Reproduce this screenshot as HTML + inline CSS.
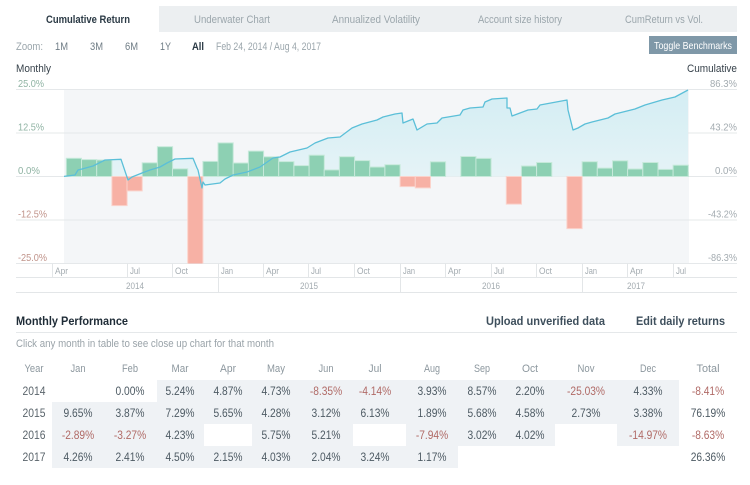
<!DOCTYPE html>
<html><head><meta charset="utf-8"><style>
html,body{margin:0;padding:0;background:#fff;width:750px;height:485px;overflow:hidden}
svg{display:block}
text{font-family:"Liberation Sans",sans-serif}
</style></head><body>
<svg width="750" height="485" viewBox="0 0 750 485" xmlns="http://www.w3.org/2000/svg">
<defs>
<linearGradient id="ag" x1="0" y1="89" x2="0" y2="190" gradientUnits="userSpaceOnUse">
<stop offset="0" stop-color="#d3edf3"/><stop offset="1" stop-color="#e8f4f7"/>
</linearGradient>
<clipPath id="pc"><rect x="64" y="89.5" width="625" height="174"/></clipPath>
</defs>

<!-- Tabs -->
<rect x="16" y="6" width="721" height="26" fill="#eceff1"/>
<rect x="16" y="6" width="143" height="26" fill="#ffffff"/>
<g font-size="11" fill="#9ba6ac">
<text x="46" y="23" textLength="84" lengthAdjust="spacingAndGlyphs" font-weight="bold" fill="#2b3a45">Cumulative Return</text>
<text x="194" y="23" textLength="76" lengthAdjust="spacingAndGlyphs">Underwater Chart</text>
<text x="332" y="23" textLength="88" lengthAdjust="spacingAndGlyphs">Annualized Volatility</text>
<text x="478" y="23" textLength="84" lengthAdjust="spacingAndGlyphs">Account size history</text>
<text x="625" y="23" textLength="78" lengthAdjust="spacingAndGlyphs">CumReturn vs Vol.</text>
</g>

<!-- Zoom row -->
<g font-size="10.8" fill="#9ba6ac">
<text x="16" y="50" textLength="27" lengthAdjust="spacingAndGlyphs">Zoom:</text>
<text x="55" y="50" textLength="13" lengthAdjust="spacingAndGlyphs" fill="#6f7c85">1M</text>
<text x="90" y="50" textLength="13" lengthAdjust="spacingAndGlyphs" fill="#6f7c85">3M</text>
<text x="125" y="50" textLength="13" lengthAdjust="spacingAndGlyphs" fill="#6f7c85">6M</text>
<text x="160" y="50" textLength="11" lengthAdjust="spacingAndGlyphs" fill="#6f7c85">1Y</text>
<text x="192" y="50" textLength="12" lengthAdjust="spacingAndGlyphs" font-weight="bold" fill="#2b3a45">All</text>
<text x="216" y="50" textLength="105" lengthAdjust="spacingAndGlyphs">Feb 24, 2014 / Aug 4, 2017</text>
</g>
<rect x="649" y="36" width="88" height="18" fill="#7f98a8"/>
<text x="654" y="49" font-size="10.5" fill="#ffffff" textLength="78" lengthAdjust="spacingAndGlyphs">Toggle Benchmarks</text>

<text x="16" y="72" font-size="11" fill="#36414a" textLength="35" lengthAdjust="spacingAndGlyphs">Monthly</text>
<text x="737" y="72" font-size="11" fill="#36414a" text-anchor="end" textLength="50" lengthAdjust="spacingAndGlyphs">Cumulative</text>

<!-- Plot background & grid -->
<rect x="64" y="89.5" width="625" height="174" fill="#f4f6f8"/>
<g stroke="#e5e8ea" stroke-width="1">
<line x1="16" y1="89.5" x2="737" y2="89.5"/>
<line x1="16" y1="133" x2="737" y2="133"/>
<line x1="16" y1="176.5" x2="737" y2="176.5"/>
<line x1="16" y1="220" x2="737" y2="220"/>
<line x1="16" y1="263.5" x2="737" y2="263.5"/>
</g>

<!-- Y labels -->
<g font-size="10.5">
<text x="18" y="87" fill="#8fb3a3" textLength="26" lengthAdjust="spacingAndGlyphs">25.0%</text>
<text x="18" y="130.5" fill="#8fb3a3" textLength="26" lengthAdjust="spacingAndGlyphs">12.5%</text>
<text x="18" y="174" fill="#8fb3a3" textLength="22" lengthAdjust="spacingAndGlyphs">0.0%</text>
<text x="18" y="217.5" fill="#c0938a" textLength="29" lengthAdjust="spacingAndGlyphs">-12.5%</text>
<text x="18" y="261" fill="#c0938a" textLength="29" lengthAdjust="spacingAndGlyphs">-25.0%</text>
<g fill="#a3abb0" text-anchor="end">
<text x="737" y="87" textLength="27" lengthAdjust="spacingAndGlyphs">86.3%</text>
<text x="737" y="130.5" textLength="27" lengthAdjust="spacingAndGlyphs">43.2%</text>
<text x="737" y="174" textLength="22" lengthAdjust="spacingAndGlyphs">0.0%</text>
<text x="737" y="217.5" textLength="29" lengthAdjust="spacingAndGlyphs">-43.2%</text>
<text x="737" y="261" textLength="29" lengthAdjust="spacingAndGlyphs">-86.3%</text>
</g>
</g>

<g clip-path="url(#pc)">
<!-- Area -->
<path fill="url(#ag)" d="M63,176.5 L75,175 78,170 82,169 93,166 105,160 121,159.3 128,180 132,177 137,175 142,173 150,170 160,167 167,163 175,159 193,158.3 197,168 198,170 202,188 203,182 205,185 220,183 225,179 233,175 247,172 260,167 273,158 280,157 290,152 307,148 315,143 328,138 340,137 352,128 362,124 377,120 383,117 395,114 402,113 403,123 413,119 417,130 427,124 437,123 442,118 460,115 463,110 470,108 483,107 485,102 492,99 507,98 507,108 510,108 512,116 520,113 528,110 537,109 540,105 567,100 568,110 573,130 578,128 585,124 592,122 608,118 615,114 635,109 645,105 662,100 675,97 688,90 L688,176.5 Z"/>

<!-- Bars -->
<g fill="#8dd0b3" stroke="#c6e9da" stroke-width="1">
<rect x="66.3" y="158.3" width="15.2" height="18.2"/>
<rect x="81.5" y="159.6" width="15.2" height="16.9"/>
<rect x="96.7" y="160" width="15.2" height="16.5"/>
<rect x="142.2" y="162.8" width="15.2" height="13.7"/>
<rect x="157.4" y="146.7" width="15.2" height="29.8"/>
<rect x="172.5" y="168.8" width="15.2" height="7.7"/>
<rect x="202.9" y="161.4" width="15.2" height="15.1"/>
<rect x="218" y="142.9" width="15.2" height="33.6"/>
<rect x="233.2" y="163" width="15.2" height="13.5"/>
<rect x="248.4" y="151.1" width="15.2" height="25.4"/>
<rect x="263.5" y="156.8" width="15.2" height="19.7"/>
<rect x="278.7" y="161.6" width="15.2" height="14.9"/>
<rect x="293.9" y="165.6" width="15.2" height="10.9"/>
<rect x="309.1" y="155.2" width="15.2" height="21.3"/>
<rect x="324.2" y="169.9" width="15.2" height="6.6"/>
<rect x="339.4" y="156.7" width="15.2" height="19.8"/>
<rect x="354.6" y="160.6" width="15.2" height="15.9"/>
<rect x="369.7" y="167" width="15.2" height="9.5"/>
<rect x="384.9" y="164.7" width="15.2" height="11.8"/>
<rect x="430.4" y="161.8" width="15.2" height="14.7"/>
<rect x="460.8" y="156.5" width="15.2" height="20"/>
<rect x="475.9" y="158.4" width="15.2" height="18.1"/>
<rect x="521.4" y="166" width="15.2" height="10.5"/>
<rect x="536.6" y="162.5" width="15.2" height="14"/>
<rect x="582.1" y="161.7" width="15.2" height="14.8"/>
<rect x="597.3" y="168.1" width="15.2" height="8.4"/>
<rect x="612.5" y="160.8" width="15.2" height="15.7"/>
<rect x="627.6" y="169" width="15.2" height="7.5"/>
<rect x="642.8" y="162.5" width="15.2" height="14"/>
<rect x="658" y="169.4" width="15.2" height="7.1"/>
<rect x="673.1" y="165.2" width="15.2" height="11.3"/>
<rect x="688.3" y="172.4" width="1" height="4.1"/>
</g>
<g fill="#f7b1a5" stroke="#fbd3cb" stroke-width="1">
<rect x="111.9" y="176.5" width="15.2" height="29.1"/>
<rect x="127" y="176.5" width="15.2" height="14.4"/>
<rect x="187.7" y="176.5" width="15.2" height="88"/>
<rect x="400.1" y="176.5" width="15.2" height="10.1"/>
<rect x="415.3" y="176.5" width="15.2" height="11.4"/>
<rect x="506.3" y="176.5" width="15.2" height="27.6"/>
<rect x="566.9" y="176.5" width="15.2" height="52.1"/>
</g>

<!-- Line -->
<path fill="none" stroke="#5bbfd8" stroke-width="1.3" stroke-linejoin="round" d="M63,176.5 L75,175 78,170 82,169 93,166 105,160 121,159.3 128,180 132,177 137,175 142,173 150,170 160,167 167,163 175,159 193,158.3 197,168 198,170 202,188 203,182 205,185 220,183 225,179 233,175 247,172 260,167 273,158 280,157 290,152 307,148 315,143 328,138 340,137 352,128 362,124 377,120 383,117 395,114 402,113 403,123 413,119 417,130 427,124 437,123 442,118 460,115 463,110 470,108 483,107 485,102 492,99 507,98 507,108 510,108 512,116 520,113 528,110 537,109 540,105 567,100 568,110 573,130 578,128 585,124 592,122 608,118 615,114 635,109 645,105 662,100 675,97 688,90"/>
</g>

<!-- X axis -->
<g stroke="#e3e6e8" stroke-width="1">
<line x1="16" y1="277.5" x2="737" y2="277.5"/>
<line x1="16" y1="292.5" x2="737" y2="292.5"/>
<line x1="52.5" y1="263.5" x2="52.5" y2="277.5"/>
<line x1="127.5" y1="263.5" x2="127.5" y2="277.5"/>
<line x1="172.5" y1="263.5" x2="172.5" y2="277.5"/>
<line x1="218.5" y1="263.5" x2="218.5" y2="292.5"/>
<line x1="263.5" y1="263.5" x2="263.5" y2="277.5"/>
<line x1="308.5" y1="263.5" x2="308.5" y2="277.5"/>
<line x1="354.5" y1="263.5" x2="354.5" y2="277.5"/>
<line x1="400.5" y1="263.5" x2="400.5" y2="292.5"/>
<line x1="445.5" y1="263.5" x2="445.5" y2="277.5"/>
<line x1="491.5" y1="263.5" x2="491.5" y2="277.5"/>
<line x1="536.5" y1="263.5" x2="536.5" y2="277.5"/>
<line x1="582.5" y1="263.5" x2="582.5" y2="292.5"/>
<line x1="627.5" y1="263.5" x2="627.5" y2="277.5"/>
<line x1="673.5" y1="263.5" x2="673.5" y2="277.5"/>
</g>
<g font-size="9.5" fill="#a3abb0">
<text x="55" y="274" textLength="13" lengthAdjust="spacingAndGlyphs">Apr</text>
<text x="130" y="274" textLength="10" lengthAdjust="spacingAndGlyphs">Jul</text>
<text x="175" y="274" textLength="13" lengthAdjust="spacingAndGlyphs">Oct</text>
<text x="221" y="274" textLength="12" lengthAdjust="spacingAndGlyphs">Jan</text>
<text x="266" y="274" textLength="13" lengthAdjust="spacingAndGlyphs">Apr</text>
<text x="311" y="274" textLength="10" lengthAdjust="spacingAndGlyphs">Jul</text>
<text x="357" y="274" textLength="13" lengthAdjust="spacingAndGlyphs">Oct</text>
<text x="403" y="274" textLength="12" lengthAdjust="spacingAndGlyphs">Jan</text>
<text x="448" y="274" textLength="13" lengthAdjust="spacingAndGlyphs">Apr</text>
<text x="494" y="274" textLength="10" lengthAdjust="spacingAndGlyphs">Jul</text>
<text x="539" y="274" textLength="13" lengthAdjust="spacingAndGlyphs">Oct</text>
<text x="585" y="274" textLength="12" lengthAdjust="spacingAndGlyphs">Jan</text>
<text x="630" y="274" textLength="13" lengthAdjust="spacingAndGlyphs">Apr</text>
<text x="676" y="274" textLength="10" lengthAdjust="spacingAndGlyphs">Jul</text>
</g>
<g font-size="9.5" fill="#a3abb0" text-anchor="middle">
<text x="135" y="289" textLength="18" lengthAdjust="spacingAndGlyphs">2014</text>
<text x="309" y="289" textLength="18" lengthAdjust="spacingAndGlyphs">2015</text>
<text x="491" y="289" textLength="18" lengthAdjust="spacingAndGlyphs">2016</text>
<text x="636" y="289" textLength="18" lengthAdjust="spacingAndGlyphs">2017</text>
</g>

<!-- Monthly Performance header -->
<text x="16" y="325" font-size="11.5" font-weight="bold" fill="#1f2c37" textLength="112" lengthAdjust="spacingAndGlyphs">Monthly Performance</text>
<text x="486" y="325" font-size="11.5" font-weight="bold" fill="#3e4f5c" textLength="119" lengthAdjust="spacingAndGlyphs">Upload unverified data</text>
<text x="636" y="325" font-size="11.5" font-weight="bold" fill="#3e4f5c" textLength="89" lengthAdjust="spacingAndGlyphs">Edit daily returns</text>
<line x1="16" y1="332.5" x2="737" y2="332.5" stroke="#e5e8ea"/>
<text x="16" y="347" font-size="10.8" fill="#9aa3a9" textLength="258" lengthAdjust="spacingAndGlyphs">Click any month in table to see close up chart for that month</text>

<!-- Table shading -->
<g fill="#eff2f5">
<rect x="157" y="380" width="522" height="22"/>
<rect x="52" y="402" width="627" height="22"/>
<rect x="52" y="424" width="152" height="22"/>
<rect x="252" y="424" width="101" height="22"/>
<rect x="406" y="424" width="149" height="22"/>
<rect x="617" y="424" width="62" height="22"/>
<rect x="52" y="446" width="406" height="22"/>
</g>

<!-- Table header -->
<g font-size="11.3" fill="#8c979e" text-anchor="middle">
<text x="34" y="372" textLength="19" lengthAdjust="spacingAndGlyphs">Year</text>
<text x="78" y="372" textLength="15" lengthAdjust="spacingAndGlyphs">Jan</text>
<text x="130" y="372" textLength="16" lengthAdjust="spacingAndGlyphs">Feb</text>
<text x="180" y="372" textLength="17" lengthAdjust="spacingAndGlyphs">Mar</text>
<text x="228" y="372" textLength="16" lengthAdjust="spacingAndGlyphs">Apr</text>
<text x="276" y="372" textLength="18" lengthAdjust="spacingAndGlyphs">May</text>
<text x="326" y="372" textLength="15" lengthAdjust="spacingAndGlyphs">Jun</text>
<text x="375" y="372" textLength="13" lengthAdjust="spacingAndGlyphs">Jul</text>
<text x="432" y="372" textLength="16" lengthAdjust="spacingAndGlyphs">Aug</text>
<text x="482" y="372" textLength="16" lengthAdjust="spacingAndGlyphs">Sep</text>
<text x="530" y="372" textLength="16" lengthAdjust="spacingAndGlyphs">Oct</text>
<text x="586" y="372" textLength="17" lengthAdjust="spacingAndGlyphs">Nov</text>
<text x="648" y="372" textLength="16" lengthAdjust="spacingAndGlyphs">Dec</text>
<text x="708" y="372" textLength="23" lengthAdjust="spacingAndGlyphs">Total</text>
</g>

<g font-size="11.5" fill="#4d5a63" text-anchor="middle" lengthAdjust="spacingAndGlyphs">
<!-- 2014 -->
<text x="34" y="395" fill="#5a646b" textLength="23" lengthAdjust="spacingAndGlyphs">2014</text>
<text x="130" y="395" textLength="29" lengthAdjust="spacingAndGlyphs">0.00%</text>
<text x="180" y="395" textLength="29" lengthAdjust="spacingAndGlyphs">5.24%</text>
<text x="228" y="395" textLength="29" lengthAdjust="spacingAndGlyphs">4.87%</text>
<text x="276" y="395" textLength="29" lengthAdjust="spacingAndGlyphs">4.73%</text>
<text x="326" y="395" fill="#b06a66" textLength="32.3" lengthAdjust="spacingAndGlyphs">-8.35%</text>
<text x="375" y="395" fill="#b06a66" textLength="32.3" lengthAdjust="spacingAndGlyphs">-4.14%</text>
<text x="432" y="395" textLength="29" lengthAdjust="spacingAndGlyphs">3.93%</text>
<text x="482" y="395" textLength="29" lengthAdjust="spacingAndGlyphs">8.57%</text>
<text x="530" y="395" textLength="29" lengthAdjust="spacingAndGlyphs">2.20%</text>
<text x="586" y="395" fill="#b06a66" textLength="38" lengthAdjust="spacingAndGlyphs">-25.03%</text>
<text x="648" y="395" textLength="29" lengthAdjust="spacingAndGlyphs">4.33%</text>
<text x="708" y="395" fill="#b06a66" textLength="32.3" lengthAdjust="spacingAndGlyphs">-8.41%</text>
<!-- 2015 -->
<text x="34" y="417" fill="#5a646b" textLength="23" lengthAdjust="spacingAndGlyphs">2015</text>
<text x="78" y="417" textLength="29" lengthAdjust="spacingAndGlyphs">9.65%</text>
<text x="130" y="417" textLength="29" lengthAdjust="spacingAndGlyphs">3.87%</text>
<text x="180" y="417" textLength="29" lengthAdjust="spacingAndGlyphs">7.29%</text>
<text x="228" y="417" textLength="29" lengthAdjust="spacingAndGlyphs">5.65%</text>
<text x="276" y="417" textLength="29" lengthAdjust="spacingAndGlyphs">4.28%</text>
<text x="326" y="417" textLength="29" lengthAdjust="spacingAndGlyphs">3.12%</text>
<text x="375" y="417" textLength="29" lengthAdjust="spacingAndGlyphs">6.13%</text>
<text x="432" y="417" textLength="29" lengthAdjust="spacingAndGlyphs">1.89%</text>
<text x="482" y="417" textLength="29" lengthAdjust="spacingAndGlyphs">5.68%</text>
<text x="530" y="417" textLength="29" lengthAdjust="spacingAndGlyphs">4.58%</text>
<text x="586" y="417" textLength="29" lengthAdjust="spacingAndGlyphs">2.73%</text>
<text x="648" y="417" textLength="29" lengthAdjust="spacingAndGlyphs">3.38%</text>
<text x="708" y="417" textLength="34.6" lengthAdjust="spacingAndGlyphs">76.19%</text>
<!-- 2016 -->
<text x="34" y="439" fill="#5a646b" textLength="23" lengthAdjust="spacingAndGlyphs">2016</text>
<text x="78" y="439" fill="#b06a66" textLength="32.3" lengthAdjust="spacingAndGlyphs">-2.89%</text>
<text x="130" y="439" fill="#b06a66" textLength="32.3" lengthAdjust="spacingAndGlyphs">-3.27%</text>
<text x="180" y="439" textLength="29" lengthAdjust="spacingAndGlyphs">4.23%</text>
<text x="276" y="439" textLength="29" lengthAdjust="spacingAndGlyphs">5.75%</text>
<text x="326" y="439" textLength="29" lengthAdjust="spacingAndGlyphs">5.21%</text>
<text x="432" y="439" fill="#b06a66" textLength="32.3" lengthAdjust="spacingAndGlyphs">-7.94%</text>
<text x="482" y="439" textLength="29" lengthAdjust="spacingAndGlyphs">3.02%</text>
<text x="530" y="439" textLength="29" lengthAdjust="spacingAndGlyphs">4.02%</text>
<text x="648" y="439" fill="#b06a66" textLength="38" lengthAdjust="spacingAndGlyphs">-14.97%</text>
<text x="708" y="439" fill="#b06a66" textLength="32.3" lengthAdjust="spacingAndGlyphs">-8.63%</text>
<!-- 2017 -->
<text x="34" y="461" fill="#5a646b" textLength="23" lengthAdjust="spacingAndGlyphs">2017</text>
<text x="78" y="461" textLength="29" lengthAdjust="spacingAndGlyphs">4.26%</text>
<text x="130" y="461" textLength="29" lengthAdjust="spacingAndGlyphs">2.41%</text>
<text x="180" y="461" textLength="29" lengthAdjust="spacingAndGlyphs">4.50%</text>
<text x="228" y="461" textLength="29" lengthAdjust="spacingAndGlyphs">2.15%</text>
<text x="276" y="461" textLength="29" lengthAdjust="spacingAndGlyphs">4.03%</text>
<text x="326" y="461" textLength="29" lengthAdjust="spacingAndGlyphs">2.04%</text>
<text x="375" y="461" textLength="29" lengthAdjust="spacingAndGlyphs">3.24%</text>
<text x="432" y="461" textLength="29" lengthAdjust="spacingAndGlyphs">1.17%</text>
<text x="708" y="461" textLength="34.6" lengthAdjust="spacingAndGlyphs">26.36%</text>
</g>
</svg>
</body></html>
